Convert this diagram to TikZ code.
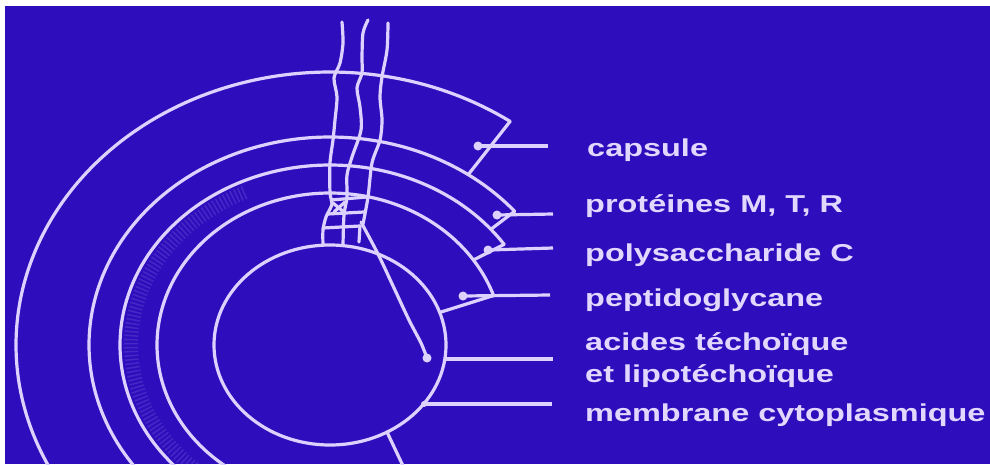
\documentclass[tikz,border=0pt]{standalone}
\usepackage{fontspec}
\newfontfamily\labelfont[FakeStretch=1.33]{Liberation Sans Bold}
\definecolor{slide}{RGB}{46,14,188}
\definecolor{ink}{RGB}{220,210,255}
\definecolor{txt}{RGB}{224,216,255}
\tikzset{
  wall/.style={draw=ink, line width=3.2pt, line cap=round, line join=round},
  leader/.style={draw=ink, line width=3.2pt},
  dotmark/.style={circle, fill=ink, inner sep=0pt, minimum size=9pt},
  junction/.style={circle, fill=ink, inner sep=0pt, minimum size=6pt},
  lbl/.style={anchor=base west, inner sep=0pt, text=txt,
    font=\labelfont\fontsize{24.4}{28}\selectfont},
}
% concentric layers: centre (330,345), radii rx/ry
\newcommand{\layer}[4]{% rx, ry, start angle, end angle
  \draw[wall] plot[domain=#3:#4, samples=120, smooth]
    ({330+#1*cos(\x)},{345+#2*sin(\x)});}
% named point on a layer: name, rx, ry, angle
\newcommand{\lpt}[4]{\path ({330+#2*cos(#4)},{345+#3*sin(#4)}) coordinate (#1);}
\begin{document}
\begin{tikzpicture}[x=1pt, y=-1pt]
\useasboundingbox (0,0) rectangle (990,464);
\fill[slide] (0,0) rectangle (990,464);
\fill[white] (0,0) rectangle (990,6);
\fill[white] (0,0) rectangle (5,464);
\begin{scope}
\clip (5,6) rectangle (990,464);
% faint textured band inside the polysaccharide layer
\draw[ink, opacity=0.13, line width=14pt, dash pattern=on 1.5pt off 2.5pt]
  plot[domain=-245:-115, samples=120, smooth] ({330+199*cos(\x)},{345+169*sin(\x)});
% layers: capsule, proteins, polysaccharide, peptidoglycan
\layer{314}{273}{-55}{-240}
\layer{241}{208}{-40}{-240}
\layer{210}{180}{-34}{-240}
\layer{173}{152}{-19}{-240}
% cell membrane
\draw[wall] (330,345) ellipse[x radius=116, y radius=100];
% radial closing edges
\lpt{a1}{314}{273}{-55}
\lpt{a2}{241}{208}{-55}
\lpt{b1}{241}{208}{-40}
\lpt{b2}{210}{180}{-40}
\lpt{c1}{210}{180}{-34}
\lpt{c2}{173}{152}{-34}
\lpt{d1}{173}{152}{-19}
\lpt{d2}{116}{100}{-19}
\draw[wall] (a1) -- (a2);
\draw[wall] (b1) -- (b2);
\draw[wall] (c1) -- (c2);
\draw[wall] (d1) -- (d2);
% edge below the cell
\coordinate (m1) at (387,432);
\coordinate (m2) at (404,468);
\draw[wall] (m1) -- (m2);
% fibres crossing the wall
\draw[wall] plot[smooth] coordinates {(342,22) (343,43) (340,63) (334,78) (337,97) (335,120) (333,140) (330,163) (330,193) (332,204) (326,217) (323,230) (323,245)};
\draw[wall] plot[smooth] coordinates {(368,20) (363,33) (362,57) (362,73) (357,88) (360,107) (361,130) (352,157) (347,175) (347,197) (344,215) (343,245)};
\draw[wall] plot[smooth] coordinates {(388,23) (387,50) (382,77) (380,97) (382,120) (380,140) (372,163) (368,197) (363,224)};
% lattice where the fibres meet the wall
\draw[wall] (331,200) -- (367,197);
\draw[wall] (328,214) -- (364,212);
\draw[wall] (323,228) -- (360,226);
\draw[wall] (333,203) -- (345,213);
\draw[wall] (345,202) -- (334,212);
\draw[wall] (360,226) -- (359,242);
% teichoic acid chain
\coordinate (t1) at (361,222);
\coordinate (t2) at (427,358);
\draw[wall] plot[smooth] coordinates {(t1) (378,254) (394,288) (409,320) (421,343) (t2)};
% marker dots
\node[dotmark] (p1) at (478,146) {};
\node[dotmark] (p2) at (497,215) {};
\node[dotmark] (p3) at (488,250) {};
\node[dotmark] (p4) at (463,296) {};
\node[dotmark] (p5) at (t2) {};
\node[junction] (p6) at (424,404) {};
\coordinate (q5) at (444,359);
% end points of the leaders
\coordinate (e1) at (548,146);
\coordinate (e2) at (553,214);
\coordinate (e3) at (553,248);
\coordinate (e4) at (550,295);
\coordinate (e5) at (553,359);
\coordinate (e6) at (552,404);
\draw[leader] (p1.center) -- (e1);
\draw[leader] (p2.center) -- (e2);
\draw[leader] (p3.center) -- (e3);
\draw[leader] (p4.center) -- (e4);
\draw[leader] (q5) -- (e5);
\draw[leader] (p6.center) -- (e6);
\end{scope}
% labels
\node[lbl] (l1) at (587,156) {capsule};
\node[lbl] (l2) at (585,212) {protéines M, T, R};
\node[lbl] (l3) at (585,261) {polysaccharide C};
\node[lbl] (l4) at (585,306) {peptidoglycane};
\node[lbl] (l5) at (585,350) {acides téchoïque};
\node[lbl] (l6) at (585,382) {et lipotéchoïque};
\node[lbl] (l7) at (585,421) {membrane cytoplasmique};
\end{tikzpicture}
\end{document}
